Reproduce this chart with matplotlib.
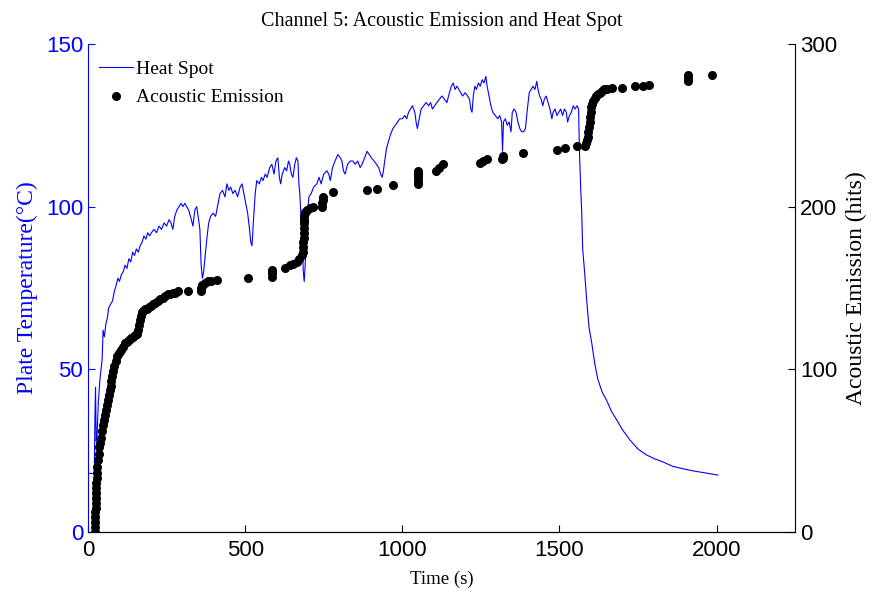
import numpy as np
import matplotlib
matplotlib.use('Agg')
import matplotlib.pyplot as plt

# heat spot temperature (time s, deg C)
heat_t = [0, 20, 21, 22, 24, 26, 29, 33, 38, 45, 48, 52, 57, 62, 66, 72, 78, 84, 90, 95,
          100, 106, 112, 118, 124, 130, 136, 142, 148, 154, 160, 166, 172, 178, 184, 190, 196,
          202, 210, 218, 226, 234, 242, 250, 258, 264, 270, 276, 283, 290, 296, 302, 308, 314,
          320, 326, 334, 340, 346, 352, 356, 360, 364, 368, 372, 378, 384, 390, 398, 406, 414,
          420, 428, 436, 442, 448, 454, 461, 468, 476, 484, 490, 496, 502, 508, 514, 518, 522,
          526, 532, 537, 545, 552, 557, 564, 570, 578, 585, 592, 598, 604, 609, 613, 618, 626,
          632, 638, 642, 647, 652, 658, 663, 668, 671, 674, 678, 682, 685, 688, 691, 694, 698,
          703, 710, 718, 728, 735, 742, 750, 760, 766, 771, 778, 786, 795, 803, 808, 813, 818,
          826, 834, 843, 850, 858, 866, 872, 880, 888, 895, 902, 910, 918, 925, 931, 936, 940,
          944, 950, 956, 962, 970, 978, 985, 992, 1000, 1008, 1014, 1020, 1026, 1032, 1036,
          1040, 1044, 1048, 1054, 1060, 1068, 1076, 1084, 1090, 1096, 1103, 1110, 1118, 1126,
          1134, 1142, 1150, 1156, 1162, 1168, 1174, 1180, 1186, 1192, 1200, 1208, 1214, 1218,
          1222, 1226, 1231, 1236, 1242, 1248, 1254, 1260, 1266, 1270, 1276, 1282, 1288, 1296,
          1304, 1310, 1316, 1319, 1322, 1328, 1334, 1340, 1346, 1350, 1356, 1362, 1368, 1374,
          1380, 1386, 1392, 1398, 1404, 1410, 1416, 1422, 1428, 1432, 1437, 1442, 1447, 1452,
          1458, 1464, 1470, 1476, 1480, 1486, 1492, 1498, 1504, 1510, 1516, 1522, 1526, 1532,
          1538, 1544, 1550, 1556, 1561, 1564, 1568, 1571, 1574, 1580, 1587, 1594, 1603, 1612,
          1622, 1636, 1650, 1666, 1682, 1700, 1724, 1750, 1775, 1800, 1830, 1860, 1890, 1924,
          1960, 2004]
heat_T = [18, 18, 27, 35, 44.5, 28, 30, 40, 47, 53, 62, 60, 64, 66, 69, 70, 71, 74, 76, 78,
          77, 79, 80, 82, 81, 84, 83, 86, 85, 87, 86, 88, 89, 91, 90, 92, 91,
          92, 93, 92, 94, 93, 95, 94, 96, 95, 93, 97, 99, 100, 101, 100, 101, 100,
          99, 97, 94, 99, 100, 96, 93, 82, 78, 80, 84, 90, 95, 97, 98, 97, 101,
          104, 105, 103, 107, 105, 106, 104, 105, 103, 106, 107, 104, 101, 98, 93, 89, 88,
          95, 104, 108, 107, 109, 108, 110, 109, 112, 113, 110, 114, 115, 109, 107, 110, 112,
          111, 114, 113, 110, 109, 113, 115, 114, 107, 104, 96, 88, 80, 77, 82, 90, 98,
          103, 104, 106, 107, 109, 107, 110, 111, 110, 108, 112, 114, 116, 115, 114, 111, 110,
          113, 114, 114, 113, 114, 112, 113, 115, 117, 116, 115, 114, 113, 112, 110, 109, 111,
          114, 118, 120, 122, 124, 125, 126, 127, 127, 128, 127, 129, 130, 131, 130,
          129, 126, 124, 127, 130, 131, 132, 131, 132, 130, 131, 132, 133, 134,
          133, 132, 135, 137, 138, 136, 137, 136, 135, 134, 135, 134, 133, 130,
          129, 134, 137, 136, 138, 137, 139, 138, 140, 137, 134, 131, 129, 128,
          127, 128, 126, 117, 126, 127, 125, 126, 123, 129, 130, 129, 126, 124,
          123, 123, 124, 130, 135, 136, 137, 136, 138.5, 136, 134, 133, 131, 133,
          134, 132, 130, 127, 129, 130, 128, 129, 130, 128, 130, 129, 126, 128,
          129, 131, 130, 131, 130, 116, 105, 98, 87, 80, 71, 63, 58, 52,
          47, 43, 40.5, 37, 34.5, 31.5, 28.3, 25.5, 23.8, 22.6, 21.5, 20.2, 19.5, 18.8,
          18.2, 17.5]

# cumulative acoustic emission hits (time s, hits)
ae_t = [22, 22, 22, 23, 23, 24, 24, 25, 25, 26, 27, 28, 29, 30, 32, 34, 36, 38, 41, 44,
        47, 50, 54, 58, 62, 65, 68, 70, 72, 74, 76, 79, 83, 88, 93, 98, 104, 110, 117, 124,
        131, 138, 144, 150, 156, 160, 163, 166, 169, 172, 175, 180, 187, 194, 200, 207, 214,
        222, 230, 238, 246, 254, 262, 270, 278, 286, 318, 360, 361, 362, 363, 372, 382, 392,
        410, 509, 585, 585, 585, 586, 626, 642, 652, 664, 672, 680, 684, 685, 685, 686, 686,
        687, 687, 688, 688, 689, 690, 696, 705, 716, 746, 746, 747, 747, 779, 887, 919, 970,
        1049, 1049, 1049, 1050, 1050, 1107, 1116, 1129, 1247, 1258, 1269, 1318, 1320, 1322,
        1384, 1491, 1517, 1555, 1581, 1585, 1588, 1590, 1592, 1594, 1596, 1598, 1600, 1602,
        1605, 1608, 1612, 1617, 1622, 1628, 1635, 1642, 1650, 1666, 1698, 1740, 1765, 1784,
        1908, 1908, 1908, 1984]
ae_hits = [0, 3, 6, 9, 12, 15, 18, 21, 24, 27, 30, 33, 36, 40, 44, 48, 52, 55, 58, 62,
           66, 69, 72, 75, 78, 81, 84, 87, 90, 93, 96, 99, 102, 105, 108, 110, 112, 114, 116, 117,
           118, 119, 120, 121, 122, 124, 127, 130, 133, 135, 136, 137, 137, 138, 139, 140, 141,
           142, 143, 144, 145, 146, 146, 147, 147, 148, 148, 148, 150, 152, 151, 153, 154, 154,
           155, 156, 157, 159, 161, 160, 162, 164, 165, 166, 168, 170, 172, 175, 178, 181, 184,
           187, 190, 192, 194, 196, 197, 198, 199, 200, 200, 202, 204, 206, 209, 210, 211, 213,
           214, 216, 218, 220, 222, 222, 224, 226, 227, 228, 229, 229, 231, 230,
           233, 235, 236, 237, 237, 239, 241, 243, 246, 249, 252, 255, 258, 261,
           263, 265, 267, 268, 269, 270, 271, 272, 272, 273, 273, 274, 274, 275,
           277, 279, 281, 281]

serif = 'Liberation Serif'
sans = 'Liberation Sans'
blue = '#0000ff'

fig = plt.figure(figsize=(8.73, 5.93), dpi=100)
ax = fig.add_axes([0.1008, 0.1029, 0.810, 0.823])
ax2 = ax.twinx()

l1, = ax.plot(heat_t, heat_T, color=blue, lw=0.8, label='Heat Spot')
l2, = ax2.plot(ae_t, ae_hits, 'o', color='black', ms=6.5, mew=0, label='Acoustic Emission')

ax.set_xlim(0, 2250)
ax.set_ylim(0, 150)
ax2.set_ylim(0, 300)
ax.set_xticks([0, 500, 1000, 1500, 2000])
ax.set_yticks([0, 50, 100, 150])
ax2.set_yticks([0, 100, 200, 300])

for a in (ax, ax2):
    a.spines['top'].set_visible(False)
    a.tick_params(direction='in', length=5, labelsize=16, width=0.8)
    for lab in a.get_xticklabels() + a.get_yticklabels():
        lab.set_fontfamily(sans)
ax.spines['left'].set_color(blue)
ax.spines['right'].set_visible(False)
ax2.spines['left'].set_visible(False)
ax.tick_params(axis='y', colors=blue)
ax.tick_params(axis='x', pad=6)

ax.set_xlabel('Time (s)', fontfamily=serif, fontsize=13.5, labelpad=7)
ax.set_ylabel('Plate Temperature(\u00b0C)', fontfamily=serif, fontsize=17, color=blue, labelpad=6)
ax2.set_ylabel('Acoustic Emission (hits)', fontfamily=serif, fontsize=17, labelpad=6)
ax.set_title('Channel 5: Acoustic Emission and Heat Spot', fontfamily=serif, fontsize=14.5, pad=13)

leg = ax.legend([l1, l2], ['Heat Spot', 'Acoustic Emission'], loc='upper left', frameon=False,
                bbox_to_anchor=(-0.008, 1.0),
                prop={'family': serif, 'size': 14}, handlelength=1.75, handletextpad=0.15,
                borderaxespad=0.45, labelspacing=0.55)

fig.savefig('out.png', dpi=100)
